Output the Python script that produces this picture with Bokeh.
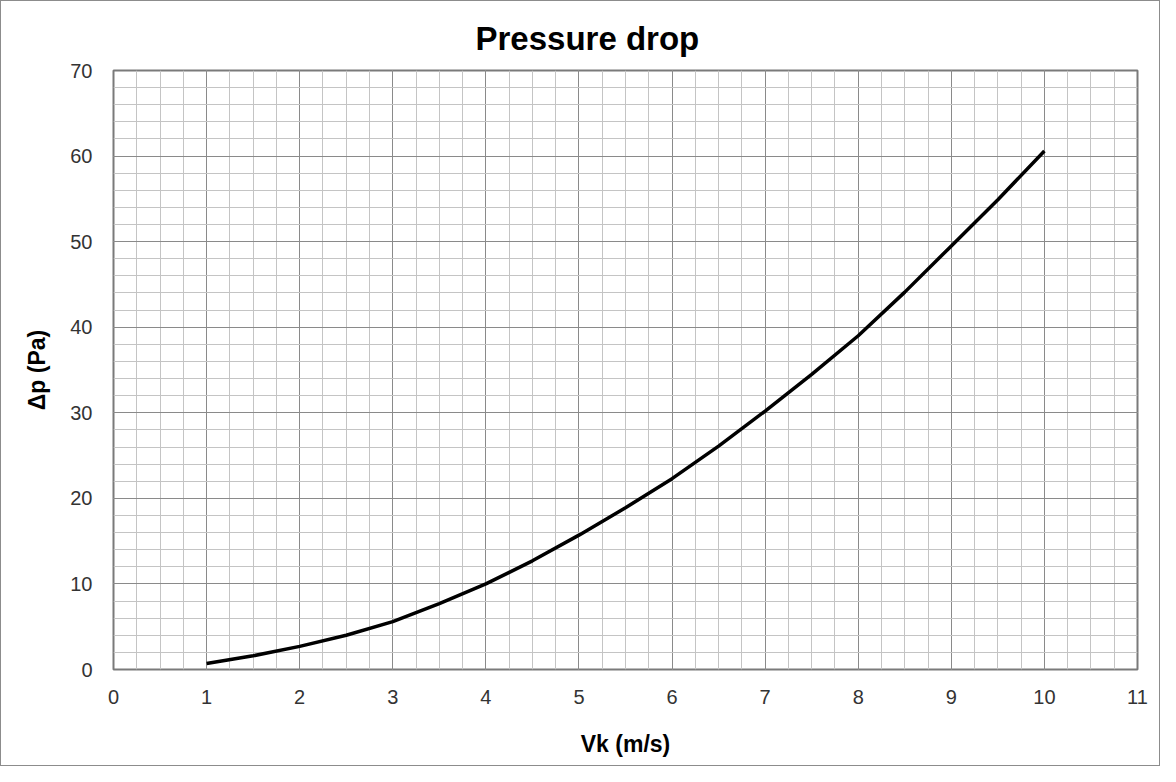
from bokeh.plotting import figure
from bokeh.models import FixedTicker
from bokeh.embed import file_html
from bokeh.resources import INLINE

# Data
vk = [1, 1.5, 2, 2.5, 3, 3.5, 4, 4.5, 5, 5.5, 6, 6.5, 7, 7.5, 8, 8.5, 9, 9.5, 10]
dp = [0.7, 1.6, 2.7, 4.0, 5.6, 7.7, 10.0, 12.7, 15.7, 18.9, 22.3, 26.1, 30.2, 34.5, 39.0, 44.1, 49.5, 54.9, 60.6]

x_ticks = list(range(0, 12))
x_minor = [i * 0.25 for i in range(0, 45)]
y_ticks = list(range(0, 71, 10))
y_minor = list(range(0, 71, 2))
title_text = "Pressure drop"

FONT = "Liberation Sans"

p = figure(width=1160, height=766, output_backend="svg", toolbar_location=None,
           x_range=(0, 11), y_range=(0, 70),
           min_border_left=112, min_border_right=24, min_border_top=69, min_border_bottom=98,
           title=title_text)
p.styles = {"border": "1px solid #8c8c8c"}

p.title.text_font = FONT
p.title.text_font_size = "33px"
p.title.text_font_style = "bold"
p.title.align = "left"
p.title.text_color = "#000000"
p.title.standoff = 28
p.title.offset = 362

p.xaxis.ticker = FixedTicker(ticks=x_ticks, minor_ticks=x_minor)
p.yaxis.ticker = FixedTicker(ticks=y_ticks, minor_ticks=y_minor)

for ax in (p.xaxis, p.yaxis):
    ax.axis_line_color = None
    ax.major_tick_line_color = None
    ax.minor_tick_line_color = None
    ax.major_label_text_font = FONT
    ax.major_label_text_font_size = "20px"
    ax.major_label_text_color = "#333333"
    ax.axis_label_text_font = FONT
    ax.axis_label_text_font_size = "23px"
    ax.axis_label_text_font_style = "bold"
    ax.axis_label_text_color = "#000000"

p.xaxis.axis_label = "Vk (m/s)"
p.yaxis.axis_label = "Δp (Pa)"
p.xaxis.major_label_standoff = 14
p.yaxis.major_label_standoff = 15
p.xaxis.axis_label_standoff = 24
p.yaxis.axis_label_standoff = 17

p.xgrid.grid_line_color = "#8a8a8a"
p.ygrid.grid_line_color = "#8a8a8a"
p.xgrid.minor_grid_line_color = "#c4c4c4"
p.ygrid.minor_grid_line_color = "#c4c4c4"
p.xgrid.grid_line_width = 1
p.ygrid.grid_line_width = 1

p.outline_line_color = "#7a7a7a"
p.outline_line_width = 2

p.line(vk, dp, line_color="black", line_width=3.5)

open("out.html", "w").write(file_html(p, INLINE))
